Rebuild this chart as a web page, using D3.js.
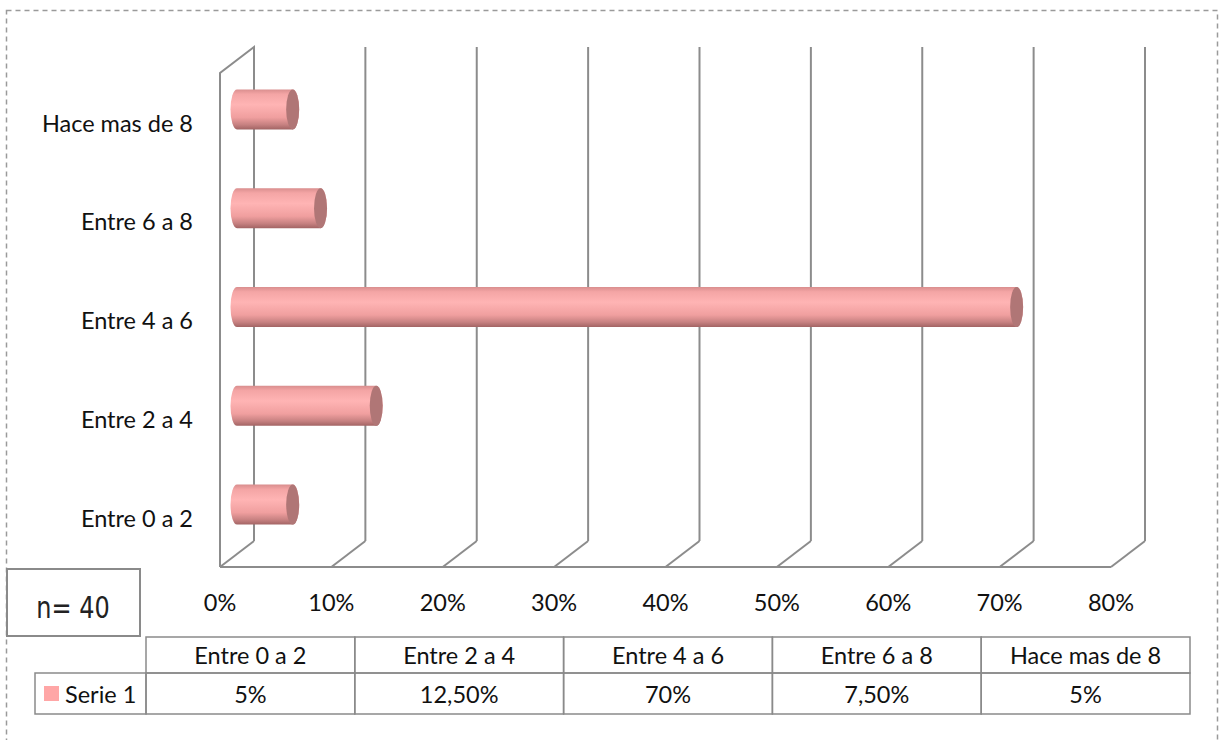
<!DOCTYPE html>
<html>
<head>
<meta charset="utf-8">
<script src="https://cdn.jsdelivr.net/npm/d3@7"></script>
<style>
  html, body { margin: 0; padding: 0; background: #fff; }
  svg { display: block; }
  text { font-family: Lato, "Open Sans", sans-serif; fill: #111; }
</style>
</head>
<body>
<div id="chart"></div>
<script>
// datos
const categories = ["Entre 0 a 2", "Entre 2 a 4", "Entre 4 a 6", "Entre 6 a 8", "Hace mas de 8"];
const values = [5, 12.5, 70, 7.5, 5];
const valueLabels = ["5%", "12,50%", "70%", "7,50%", "5%"];
const xTicks = [0, 10, 20, 30, 40, 50, 60, 70, 80];
const seriesName = "Serie 1";
const sampleLabel = "n= 40";

const width = 1220, height = 740;
const depth = { dx: 34, dy: -26 };
const grid = "#8c8c8c";
const fs = 23.5;

const svg = d3.select("#chart").append("svg")
  .attr("width", width)
  .attr("height", height);

// borde punteado
svg.append("rect")
  .attr("x", 6.5).attr("y", 10.5)
  .attr("width", 1211).attr("height", 780)
  .attr("fill", "none")
  .attr("stroke", "#9a9a9a")
  .attr("stroke-width", 1.5)
  .attr("stroke-dasharray", "5,4");

// escalas (plano frontal)
const x = d3.scaleLinear().domain([0, 80]).range([220, 1111]);
const y = d3.scaleBand().domain(categories.slice().reverse()).range([73, 567]);
const yTop = 73, yBottom = 567;

const gGrid = svg.append("g")
  .attr("fill", "none")
  .attr("stroke", grid)
  .attr("stroke-width", 2);

// pared izquierda
gGrid.append("path")
  .attr("d", `M${x(0)},${yBottom} L${x(0)},${yTop} L${x(0) + depth.dx},${yTop + depth.dy} L${x(0) + depth.dx},${yBottom + depth.dy}`);

// lineas verticales de fondo
gGrid.selectAll("line.back")
  .data(xTicks.slice(1))
  .join("line")
  .attr("x1", d => x(d) + depth.dx).attr("x2", d => x(d) + depth.dx)
  .attr("y1", yTop + depth.dy).attr("y2", yBottom + depth.dy);

// piso: diagonales y borde frontal
gGrid.selectAll("line.floor")
  .data(xTicks)
  .join("line")
  .attr("x1", d => x(d)).attr("y1", yBottom)
  .attr("x2", d => x(d) + depth.dx).attr("y2", yBottom + depth.dy);

gGrid.append("line")
  .attr("x1", x(0)).attr("x2", x(80))
  .attr("y1", yBottom).attr("y2", yBottom);

// cilindros
const defs = svg.append("defs");
const grad = defs.append("linearGradient")
  .attr("id", "cyl").attr("x1", 0).attr("y1", 0).attr("x2", 0).attr("y2", 1);
grad.append("stop").attr("offset", "0%").attr("stop-color", "#d98e8e");
grad.append("stop").attr("offset", "12%").attr("stop-color", "#f4a5a5");
grad.append("stop").attr("offset", "38%").attr("stop-color", "#ffb4b4");
grad.append("stop").attr("offset", "70%").attr("stop-color", "#f09f9f");
grad.append("stop").attr("offset", "88%").attr("stop-color", "#c78181");
grad.append("stop").attr("offset", "100%").attr("stop-color", "#a26464");

const mid = { dx: depth.dx / 2, dy: depth.dy / 2 };
const barH = 40, rx = 6.5, ry = barH / 2;

const bars = svg.append("g").selectAll("g")
  .data(categories.map((c, i) => ({ c, v: values[i] })))
  .join("g");

bars.append("path")
  .attr("fill", "url(#cyl)")
  .attr("d", d => {
    const cy = y(d.c) + y.bandwidth() / 2 + mid.dy;
    const x0 = x(0) + mid.dx, x1 = x(d.v) + mid.dx;
    const t = cy - ry, b = cy + ry;
    return `M${x0},${t} L${x1},${t} A${rx},${ry} 0 0 1 ${x1},${b} L${x0},${b} A${rx},${ry} 0 0 1 ${x0},${t} Z`;
  });

bars.append("ellipse")
  .attr("cx", d => x(d.v) + mid.dx)
  .attr("cy", d => y(d.c) + y.bandwidth() / 2 + mid.dy)
  .attr("rx", rx).attr("ry", ry)
  .attr("fill", "#b07676");

// etiquetas de categoria
svg.append("g").selectAll("text")
  .data(categories)
  .join("text")
  .attr("x", 193)
  .attr("y", d => y(d) + y.bandwidth() / 2 + 1)
  .attr("dy", "0.35em")
  .attr("text-anchor", "end")
  .attr("font-size", fs)
  .text(d => d);

// etiquetas eje x
svg.append("g").selectAll("text")
  .data(xTicks)
  .join("text")
  .attr("x", d => x(d))
  .attr("y", 603)
  .attr("dy", "0.35em")
  .attr("text-anchor", "middle")
  .attr("font-size", fs)
  .text(d => d + "%");

// caja n=40
svg.append("rect")
  .attr("x", 7).attr("y", 569).attr("width", 133).attr("height", 67)
  .attr("fill", "#fff").attr("stroke", "#8a8a8a").attr("stroke-width", 2);
svg.append("text")
  .attr("x", 73).attr("y", 608)
  .attr("dy", "0.35em")
  .attr("text-anchor", "middle")
  .style("font-family", "'DejaVu Sans', sans-serif")
  .attr("font-size", 30)
  .style("fill", "#222")
  .attr("transform", "translate(73,0) scale(0.8,1) translate(-73,0)")
  .text(sampleLabel);

// tabla de datos
const col = d3.scaleBand().domain(categories).range([146, 1190]);
const rowTop = 637, rowMid = 673, rowBot = 714;
const tbl = svg.append("g");

tbl.selectAll("rect.h")
  .data(categories)
  .join("rect")
  .attr("x", d => col(d)).attr("y", rowTop)
  .attr("width", col.bandwidth()).attr("height", rowMid - rowTop)
  .attr("fill", "none").attr("stroke", "#8a8a8a").attr("stroke-width", 1.5);

tbl.selectAll("rect.v")
  .data(categories)
  .join("rect")
  .attr("x", d => col(d)).attr("y", rowMid)
  .attr("width", col.bandwidth()).attr("height", rowBot - rowMid)
  .attr("fill", "none").attr("stroke", "#8a8a8a").attr("stroke-width", 1.5);

tbl.append("rect")
  .attr("x", 35).attr("y", rowMid).attr("width", 146 - 35).attr("height", rowBot - rowMid)
  .attr("fill", "none").attr("stroke", "#8a8a8a").attr("stroke-width", 1.5);

tbl.append("rect")
  .attr("x", 44).attr("y", 686).attr("width", 15).attr("height", 15)
  .attr("fill", "#ffa6a6");

tbl.append("text")
  .attr("x", 65).attr("y", (rowMid + rowBot) / 2 + 1)
  .attr("dy", "0.35em")
  .attr("font-size", fs)
  .text(seriesName);

tbl.selectAll("text.h")
  .data(categories)
  .join("text")
  .attr("x", d => col(d) + col.bandwidth() / 2)
  .attr("y", (rowTop + rowMid) / 2 + 1)
  .attr("dy", "0.35em")
  .attr("text-anchor", "middle")
  .attr("font-size", fs)
  .text(d => d);

tbl.selectAll("text.v")
  .data(valueLabels)
  .join("text")
  .attr("x", (d, i) => col(categories[i]) + col.bandwidth() / 2)
  .attr("y", (rowMid + rowBot) / 2 + 1)
  .attr("dy", "0.35em")
  .attr("text-anchor", "middle")
  .attr("font-size", fs)
  .text(d => d);
</script>
</body>
</html>
